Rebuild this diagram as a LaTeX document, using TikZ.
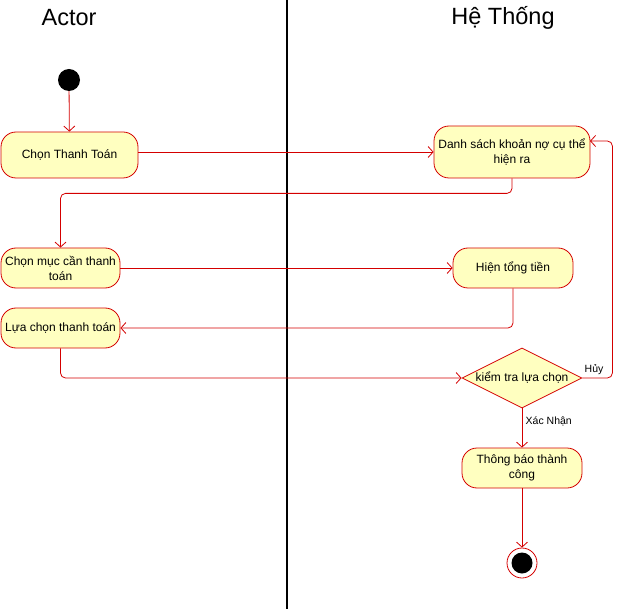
\documentclass[tikz,border=0pt]{standalone}
\usepackage{fontspec}
\setmainfont{Liberation Sans}
\usetikzlibrary{arrows.meta}
\usetikzlibrary{shapes.geometric,positioning}

\definecolor{umlred}{HTML}{D40000}
\definecolor{umlfill}{HTML}{FFFFC0}

\tikzset{
  act/.style={draw=umlred,fill=umlfill,rounded corners=15pt,line width=0.8pt,
    align=center,font=\fontsize{12}{15}\selectfont,inner sep=1pt},
  choice/.style={draw=umlred,fill=umlfill,diamond,aspect=2,line width=0.8pt,
    minimum width=120pt,minimum height=60pt,inner sep=0pt,font=\fontsize{12}{15}\selectfont},
  flow/.style={draw=umlred,line width=0.8pt,rounded corners=5pt,
    -{Straight Barb[length=5pt,width=11pt]}},
  lane/.style={font=\fontsize{23.5}{28}\selectfont},
  tag/.style={font=\fontsize{10.5}{12}\selectfont}
}

\begin{document}
\begin{tikzpicture}[x=1pt,y=-1pt]
\useasboundingbox (0,0) rectangle (623,609);

\node[lane] (actor) at (69,18) {Actor};
\node[lane] (hethong) at (503,18) {Hệ Thống};
\draw[line width=2.2pt] (287,0) -- (287,609);

\node[circle,fill=black,minimum size=22pt,inner sep=0pt] (start) at (69,80) {};
\node[act,minimum width=137pt,minimum height=46pt] (chon) at (69.5,155) {Chọn Thanh Toán};
\node[act,minimum width=156pt,minimum height=52pt] (ds) at (512,152) {Danh sách khoản nợ cụ thể\\hiện ra};
\node[act,minimum width=119pt,minimum height=40pt] (muc) at (60.5,268) {Chọn mục cần thanh\\toán};
\node[act,minimum width=120pt,minimum height=40pt] (tong) at (513,268) {Hiện tổng tiền};
\node[act,minimum width=119pt,minimum height=40pt] (lua) at (60.5,328) {Lựa chọn thanh toán};
\node[choice] (kt) at (522,378) {kiểm tra lựa chọn};
\node[act,minimum width=120pt,minimum height=40pt] (tb) at (522,468) {Thông báo thành\\công};
\node[circle,draw=umlred,fill=white,line width=0.8pt,minimum size=30pt,inner sep=0pt] (end) at (522,563) {};
\node[circle,fill=black,minimum size=21pt,inner sep=0pt] at (end) {};

\coordinate (back) at (590,141);

% luong xu ly
\path[flow] (start) -- (chon);
\path[flow] (chon.east |- ds) -- (ds.west);
\path[flow] (ds.south) -- ++(0,15) -| (muc.north);
\path[flow] (muc) -- (tong);
\path[flow] (tong.south) |- (lua.east);
\path[flow] (lua.south) |- (kt.west);
\path[flow] (kt.east) -- ++(30,0) |- (back);
\path[flow] (kt.south) -- node[right,tag,pos=0.32]{Xác Nhận} (tb.north);
\path[flow] (tb.south) -- (end.north);

\node[tag] (huy) at (594,370) {Hủy};
\end{tikzpicture}
\end{document}
